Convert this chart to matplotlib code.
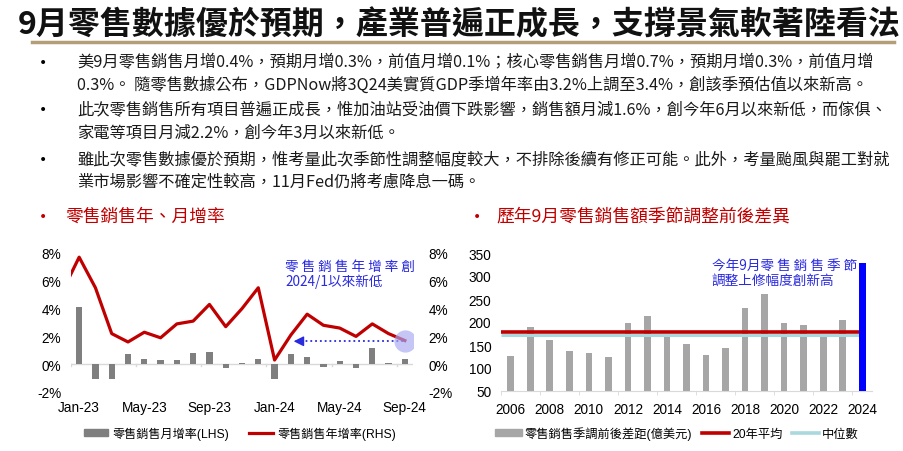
import matplotlib
matplotlib.use("Agg")
import matplotlib.pyplot as plt
from matplotlib.lines import Line2D
from matplotlib.patches import Patch
import numpy as np

plt.rcParams['font.family'] = ['Liberation Sans', 'Noto Sans CJK TC']
cjk = ['Noto Sans CJK TC', 'DejaVu Sans']

# données
titre = "9月零售數據優於預期，產業普遍正成長，支撐景氣軟著陸看法"
lignes = [
    ["美9月零售銷售月增0.4%，預期月增0.3%，前值月增0.1%；核心零售銷售月增0.7%，預期月增0.3%，前值月增",
     "0.3%。 隨零售數據公布，GDPNow將3Q24美實質GDP季增年率由3.2%上調至3.4%，創該季預估值以來新高。"],
    ["此次零售銷售所有項目普遍正成長，惟加油站受油價下跌影響，銷售額月減1.6%，創今年6月以來新低，而傢俱、",
     "家電等項目月減2.2%，創今年3月以來新低。"],
    ["雖此次零售數據優於預期，惟考量此次季節性調整幅度較大，不排除後續有修正可能。此外，考量颱風與罷工對就",
     "業市場影響不確定性較高，11月Fed仍將考慮降息一碼。"],
]

mois = ['Jan-23', 'Feb-23', 'Mar-23', 'Apr-23', 'May-23', 'Jun-23', 'Jul-23', 'Aug-23',
        'Sep-23', 'Oct-23', 'Nov-23', 'Dec-23', 'Jan-24', 'Feb-24', 'Mar-24', 'Apr-24',
        'May-24', 'Jun-24', 'Jul-24', 'Aug-24', 'Sep-24']
mom = [4.1, -1.1, -1.1, 0.7, 0.4, 0.3, 0.3, 0.8, 0.9, -0.3, 0.1, 0.4,
       -1.1, 0.7, 0.5, -0.2, 0.2, -0.3, 1.2, 0.1, 0.4]
yoy_dec22 = 5.3
yoy = [7.7, 5.5, 2.2, 1.6, 2.3, 1.9, 2.9, 3.1, 4.3, 2.7, 4.0, 5.5,
       0.3, 2.1, 3.6, 2.8, 2.6, 2.0, 2.9, 2.2, 1.7]

annees = list(range(2006, 2025))
ecart = [126, 189, 160, 137, 133, 124, 197, 213, 172, 153, 129, 144,
         231, 260, 197, 193, 168, 205, 328]
moyenne = 178.5
mediane = 171.5

fig = plt.figure(figsize=(9.04, 4.52), dpi=100)
W, H = 904.0, 452.0

def fx(px):
    return px / W

def fy(py):
    return 1 - py / H

# titre et texte
fig.text(fx(18), fy(25), titre, fontsize=23.0, fontweight='bold', family=cjk,
         va='center', ha='left', color='#111111')
fig.add_artist(Line2D([fx(32), fx(894)], [fy(43), fy(43)], color='#B49E76', lw=2.5))

ys = [(63, 85), (110, 133), (160, 182)]
for (l1, l2), (y1, y2) in zip(lignes, ys):
    fig.text(fx(43), fy(y1), "•", fontsize=10, family='DejaVu Sans', va='center', ha='center')
    fig.text(fx(77), fy(y1), l1, fontsize=11.7, family=cjk, va='center', color='#1a1a1a')
    fig.text(fx(77), fy(y2), l2, fontsize=11.7, family=cjk, va='center', color='#1a1a1a')

rouge = '#C00000'
fig.text(fx(43), fy(217), "•", fontsize=10, family='DejaVu Sans', va='center', ha='center', color=rouge)
fig.text(fx(65), fy(217), "零售銷售年、月增率", fontsize=12.8, family=cjk, va='center', color=rouge)
fig.text(fx(477), fy(217), "•", fontsize=10, family='DejaVu Sans', va='center', ha='center', color=rouge)
fig.text(fx(496), fy(217), "歷年9月零售銷售額季節調整前後差異", fontsize=12.8, family=cjk,
         va='center', color=rouge)

# graphique de gauche
ax = fig.add_axes([fx(71), fy(393), fx(413 - 71), (393 - 254) / H])
x = np.arange(len(mois))
ax.bar(x, mom, width=0.38, color='#7F7F7F', zorder=2)
ax.set_xlim(-0.5, len(mois) - 0.5)
ax.set_ylim(-2, 8)
ax.axhline(0, color='#D9D9D9', lw=1, zorder=1)
for t in np.arange(-0.5, len(mois), 4):
    ax.plot([t, t], [0, -0.15], color='#D9D9D9', lw=1, zorder=1)
for s in ax.spines.values():
    s.set_visible(False)
ax.set_yticks(range(-2, 9, 2))
ax.set_yticklabels([f"{v}%" for v in range(-2, 9, 2)])
ax.set_xticks(x[::4])
ax.set_xticklabels(mois[::4])
ax.tick_params(axis='both', length=0, labelsize=9.8)
ax.tick_params(axis='y', pad=7)
ax.tick_params(axis='x', pad=6)

ax2 = ax.twinx()
ax2.set_ylim(-2, 8)
ax2.set_xlim(-0.5, len(mois) - 0.5)
ax2.plot(np.arange(-1, len(mois)), [yoy_dec22] + yoy, color=rouge, lw=2.3, zorder=3)
for s in ax2.spines.values():
    s.set_visible(False)
ax2.set_yticks(range(-2, 9, 2))
ax2.set_yticklabels([f"{v}%" for v in range(-2, 9, 2)])
ax2.tick_params(axis='y', length=0, labelsize=9.8, pad=11)

bleu = '#2A2AE0'
i_fin = len(mois) - 1
i_deb = mois.index('Feb-24')
y_fleche = yoy[-1] - 0.05
ax2.plot([i_deb + 0.3, i_fin], [y_fleche, y_fleche], ls=':', color=bleu, lw=1.3, zorder=4)
ax2.annotate('', xy=(i_deb, y_fleche), xytext=(i_deb + 0.6, y_fleche),
             arrowprops=dict(arrowstyle='-|>,head_length=0.6,head_width=0.3', color=bleu, lw=1.0))
ax2.plot([i_fin], [yoy[-1]], 'o', ms=16, color='#A8A8F2', alpha=0.65, mec='none', zorder=5)
ax2.text(12.65, 7.6, "零 售 銷 售 年 增 率 創\n2024/1以來新低", fontsize=9.8, family=cjk,
         color=bleu, va='top', ha='left', linespacing=1.1)

ax.legend(handles=[Patch(color='#7F7F7F', label='零售銷售月增率(LHS)'),
                   Line2D([], [], color=rouge, lw=2.3, label='零售銷售年增率(RHS)')],
          loc='center', bbox_to_anchor=(fx(240), fy(434)), bbox_transform=fig.transFigure,
          ncol=2, frameon=False, fontsize=8.7, handlelength=2.0, handleheight=0.6,
          handletextpad=0.35, columnspacing=1.6)

# graphique de droite
axr = fig.add_axes([fx(501), fy(392), fx(872 - 501), (392 - 254) / H])
axr.bar(annees[:-1], ecart[:-1], width=0.34, color='#A6A6A6', zorder=2)
axr.hlines(moyenne, 2005.5, annees[-1] + 0.1, color=rouge, lw=2.6, zorder=3)
axr.hlines(mediane, 2005.5, annees[-1] + 0.15, color='#A9D8DE', lw=2.2, zorder=3)
axr.bar(annees[-1:], ecart[-1:], width=0.34, color='#0000FF', zorder=4)
axr.set_xlim(2005.5, 2024.5)
axr.set_ylim(50, 350)
for k in ['top', 'right', 'left']:
    axr.spines[k].set_visible(False)
axr.spines['bottom'].set_color('#D9D9D9')
axr.set_yticks(range(50, 351, 50))
axr.set_xticks(annees[::2])
axr.set_xticks(np.arange(2005.5, 2025, 2), minor=True)
axr.tick_params(axis='both', which='major', length=0, labelsize=9.8)
axr.tick_params(axis='y', pad=7)
axr.tick_params(axis='x', pad=8)
axr.tick_params(axis='x', which='minor', length=3, color='#D9D9D9')
axr.text(2016.3, 340, "今年9月零 售 銷 售 季 節\n調整上修幅度創新高", fontsize=9.8, family=cjk,
         color=bleu, va='top', ha='left', linespacing=1.1)

axr.legend(handles=[Patch(color='#A6A6A6', label='零售銷售季調前後差距(億美元)'),
                    Line2D([], [], color=rouge, lw=2.6, label='20年平均'),
                    Line2D([], [], color='#A9D8DE', lw=2.6, label='中位數')],
           loc='center', bbox_to_anchor=(fx(677), fy(434)), bbox_transform=fig.transFigure,
           ncol=3, frameon=False, fontsize=8.8, handlelength=2.2, handleheight=0.6,
           handletextpad=0.25, columnspacing=0.8)

fig.savefig('out.png', dpi=100)
